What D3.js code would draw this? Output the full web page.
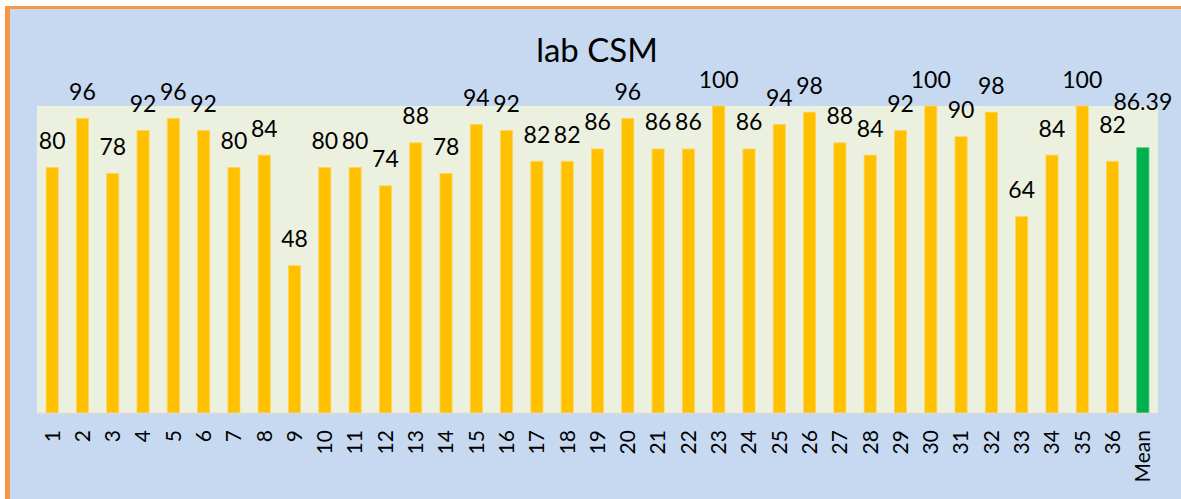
<!DOCTYPE html>
<html>
<head>
<meta charset="utf-8">
<script src="https://cdn.jsdelivr.net/npm/d3@7"></script>
<style>
  html, body { margin: 0; padding: 0; background: #fff; }
  svg { display: block; font-family: Lato, "Noto Sans", sans-serif; }
</style>
</head>
<body>
<svg id="chart" width="1181" height="499"></svg>
<script>
// values
const students = ['1','2','3','4','5','6','7','8','9','10','11','12','13','14','15','16','17','18',
                  '19','20','21','22','23','24','25','26','27','28','29','30','31','32','33','34','35','36'];
const scores = [80,96,78,92,96,92,80,84,48,80,80,74,88,78,94,92,82,82,
                86,96,86,86,100,86,94,98,88,84,92,100,90,98,64,84,100,82];
const meanLabel = ['Mean'];
const meanScore = [86.39];

const WIDTH = 1181,
      HEIGHT = 499,
      PLOT = { left: 37, right: 1158, top: 106, bottom: 413 },
      BAR_COLOR = '#ffc000',
      MEAN_COLOR = '#00b050';

const cats = students.concat(meanLabel);
const vals = scores.concat(meanScore);
const rows = cats.map((c, i) => ({ cat: c, v: vals[i], mean: c === 'Mean' }));

// excel pushed a couple of labels up so they don't collide
const labelLift = { '36': 10, 'Mean': 19 };

const svg = d3.select('#chart');

// outer frame
svg.append('rect')
    .attr('x', 0).attr('y', 0).attr('width', WIDTH).attr('height', HEIGHT)
    .attr('fill', '#fff');
svg.append('rect')
    .attr('x', 5).attr('y', 6).attr('width', WIDTH - 5).attr('height', HEIGHT - 6)
    .attr('fill', '#f79646');
svg.append('rect')
    .attr('x', 10).attr('y', 9).attr('width', WIDTH - 10).attr('height', HEIGHT - 9)
    .attr('fill', '#c6d9f1');

// plot area
svg.append('rect')
    .attr('x', PLOT.left).attr('y', PLOT.top)
    .attr('width', PLOT.right - PLOT.left).attr('height', PLOT.bottom - PLOT.top)
    .attr('fill', '#ebf1de');

svg.append('text')
    .attr('x', 597).attr('y', 62)
    .attr('text-anchor', 'middle')
    .style('font-size', '33px')
    .style('fill', '#000')
    .text('lab CSM');

let x = d3.scaleBand()
    .domain(cats)
    .range([PLOT.left, PLOT.right])
    .paddingInner(0.6)
    .paddingOuter(0.3);

let y = d3.scaleLinear()
    .domain([0, 100])
    .range([PLOT.bottom, PLOT.top]);

svg.append('g')
    .selectAll('rect')
    .data(rows)
    .enter()
    .append('rect')
    .attr('x', d => x(d.cat))
    .attr('y', d => y(d.v))
    .attr('width', x.bandwidth())
    .attr('height', d => y(0) - y(d.v))
    .attr('fill', d => d.mean ? MEAN_COLOR : BAR_COLOR)
    .attr('stroke', d => d.mean ? '#3cc477' : '#ffd55c')
    .attr('stroke-width', 0.8);

// value labels
svg.append('g')
    .selectAll('text')
    .data(rows)
    .enter()
    .append('text')
    .attr('x', d => x(d.cat) + x.bandwidth() / 2)
    .attr('y', d => y(d.v) - 18.5 - (labelLift[d.cat] || 0))
    .attr('text-anchor', 'middle')
    .style('font-size', '23px')
    .style('fill', '#000')
    .text(d => d.mean ? d.v.toFixed(2) : d.v);

// category axis
let xAxis = d3.axisBottom(x).tickSize(0).tickPadding(0);
let gx = svg.append('g')
    .attr('transform', `translate(0,${PLOT.bottom})`)
    .call(xAxis);

gx.select('.domain')
    .attr('stroke', '#d9d9d9')
    .attr('stroke-width', 1.5);

gx.selectAll('text')
    .attr('transform', 'rotate(-90)')
    .attr('x', -17)
    .attr('y', 0)
    .attr('dy', '0.35em')
    .attr('text-anchor', 'end')
    .style('font-family', 'Lato, "Noto Sans", sans-serif')
    .style('font-size', '21px')
    .style('fill', '#000');
</script>
</body>
</html>
